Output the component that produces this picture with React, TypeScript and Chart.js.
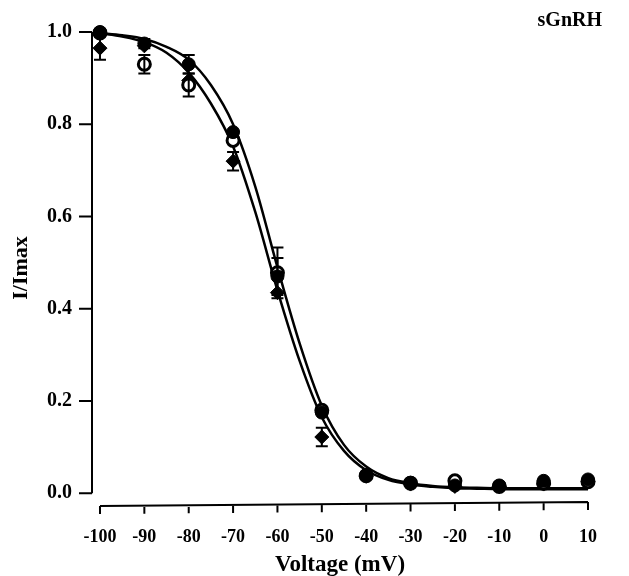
import React, { useEffect, useRef } from "react";
import { Chart, registerables } from "chart.js";

Chart.register(...registerables);

const xVals = [-100, -90, -80, -70, -60, -50, -40, -30, -20, -10, 0, 10];
const filledVals = [1.0, 0.975, 0.93, 0.783, 0.47, 0.175, 0.04, 0.023, 0.017, 0.017, 0.027, 0.03];
const openVals = [0.998, 0.93, 0.885, 0.765, 0.478, 0.18, 0.038, 0.022, 0.027, 0.015, 0.022, 0.025];
const diamondVals = [0.965, 0.97, 0.895, 0.72, 0.435, 0.122, 0.037, 0.02, 0.015, 0.015, 0.02, 0.025];
const filledErr = [0, 0.01, 0.02, 0, 0.04, 0, 0, 0, 0, 0, 0, 0];
const openErr = [0, 0.02, 0.025, 0, 0.055, 0, 0, 0, 0, 0, 0, 0];
const diamondErr = [0.025, 0, 0, 0.02, 0, 0.02, 0, 0, 0, 0, 0, 0];

const curveV = [-100, -95, -90, -85, -80, -75, -70, -65, -60, -55, -50, -45, -40, -35, -30, -25, -20, -15, -10, -5, 0, 5, 10];
const curveA = [0.998, 0.993, 0.985, 0.968, 0.94, 0.885, 0.8, 0.665, 0.49, 0.325, 0.19, 0.105, 0.058, 0.033, 0.022, 0.016, 0.013, 0.012, 0.011, 0.011, 0.011, 0.011, 0.011];
const curveB = [0.997, 0.99, 0.978, 0.955, 0.912, 0.845, 0.752, 0.61, 0.44, 0.287, 0.165, 0.092, 0.05, 0.029, 0.019, 0.014, 0.011, 0.01, 0.009, 0.009, 0.009, 0.009, 0.009];

const xTicks = [-100, -90, -80, -70, -60, -50, -40, -30, -20, -10, 0, 10];
const yTicks = [0, 0.2, 0.4, 0.6, 0.8, 1.0];

const FONT = "'Liberation Serif', 'DejaVu Serif', serif";

const axesPlugin = {
  id: "customAxes",
  afterDatasetsDraw(chart: any) {
    const ctx = chart.ctx;
    const xs = chart.scales.x;
    const ys = chart.scales.y;
    ctx.save();
    ctx.strokeStyle = "#000";
    ctx.lineWidth = 2;
    // error bars
    const sets = [
      [diamondVals, diamondErr],
      [openVals, openErr],
      [filledVals, filledErr],
    ];
    for (const [vals, errs] of sets) {
      for (let i = 0; i < xVals.length; i++) {
        const e = errs[i];
        if (!e) continue;
        const px = xs.getPixelForValue(xVals[i]);
        const top = ys.getPixelForValue(vals[i] + e);
        const bot = ys.getPixelForValue(vals[i] - e);
        ctx.beginPath();
        ctx.moveTo(px, top);
        ctx.lineTo(px, bot);
        ctx.moveTo(px - 6, top);
        ctx.lineTo(px + 6, top);
        ctx.moveTo(px - 6, bot);
        ctx.lineTo(px + 6, bot);
        ctx.stroke();
      }
    }
    // y axis
    const ax = chart.chartArea.left;
    ctx.beginPath();
    ctx.moveTo(ax, ys.getPixelForValue(1.0));
    ctx.lineTo(ax, ys.getPixelForValue(0));
    for (const t of yTicks) {
      const py = ys.getPixelForValue(t);
      ctx.moveTo(ax, py);
      ctx.lineTo(ax - 13, py);
    }
    ctx.stroke();
    // x axis
    const ay = chart.chartArea.bottom;
    ctx.beginPath();
    ctx.moveTo(xs.getPixelForValue(-100), ay + 2);
    ctx.lineTo(xs.getPixelForValue(10), ay - 2);
    for (const t of xTicks) {
      const px = xs.getPixelForValue(t);
      const yy = ay + 2 - ((t + 100) / 110) * 4;
      ctx.moveTo(px, yy);
      ctx.lineTo(px, yy + 8);
    }
    ctx.stroke();
    // label
    ctx.fillStyle = "#000";
    ctx.font = `bold 20px ${FONT}`;
    ctx.textAlign = "right";
    ctx.textBaseline = "middle";
    ctx.fillText("sGnRH", 602, 21);
    ctx.restore();
  },
};

export default function App() {
  const ref = useRef<HTMLCanvasElement>(null);
  useEffect(() => {
    if (!ref.current) return;
    const pts = (vals: number[]) => xVals.map((x, i) => ({ x, y: vals[i] }));
    const crv = (vals: number[]) => curveV.map((x, i) => ({ x, y: vals[i] }));
    const chart = new Chart(ref.current, {
      type: "scatter",
      data: {
        datasets: [
          {
            label: "filled",
            data: pts(filledVals),
            pointStyle: "circle",
            pointRadius: 6.5,
            backgroundColor: "#000",
            borderColor: "#000",
            borderWidth: 1,
            clip: false,
          } as any,
          {
            label: "open",
            data: pts(openVals),
            pointStyle: "circle",
            pointRadius: 6,
            backgroundColor: "#fff",
            borderColor: "#000",
            borderWidth: 3,
            clip: false,
          },
          {
            label: "diamond",
            data: pts(diamondVals),
            pointStyle: "rectRot",
            pointRadius: 7,
            backgroundColor: "#000",
            borderColor: "#000",
            borderWidth: 1,
            clip: false,
          },
          {
            label: "fitA",
            type: "line",
            data: crv(curveA),
            showLine: true,
            pointRadius: 0,
            borderColor: "#000",
            borderWidth: 2.5,
            tension: 0.4,
            cubicInterpolationMode: "monotone",
            fill: false,
            clip: false,
          },
          {
            label: "fitB",
            type: "line",
            data: crv(curveB),
            showLine: true,
            pointRadius: 0,
            borderColor: "#000",
            borderWidth: 2.5,
            tension: 0.4,
            cubicInterpolationMode: "monotone",
            fill: false,
            clip: false,
          },
        ],
      } as any,
      options: {
        animation: false,
        responsive: false,
        maintainAspectRatio: false,
        layout: { padding: { top: 19, right: 41, left: 0, bottom: 0 } },
        plugins: { legend: { display: false }, tooltip: { enabled: false }, title: { display: false } },
        scales: {
          x: {
            type: "linear",
            min: -101.8,
            max: 10,
            grid: { display: false, drawTicks: false },
            border: { display: false },
            afterFit: (s: any) => {
              s.height = 72;
            },
            afterBuildTicks: (s: any) => {
              s.ticks = xTicks.map((v) => ({ value: v }));
            },
            ticks: {
              color: "#000",
              padding: 23,
              maxRotation: 0,
              autoSkip: false,
              font: { family: FONT, size: 18, weight: "bold" },
              callback: (v: any) => String(v),
            },
            title: {
              display: true,
              text: "Voltage (mV)",
              color: "#000",
              padding: { top: 4, bottom: -3 },
              font: { family: FONT, size: 23, weight: "bold" },
            },
          },
          y: {
            type: "linear",
            min: -0.0232,
            max: 1.0,
            grid: { display: false, drawTicks: false },
            border: { display: false },
            afterFit: (s: any) => {
              s.width = 92;
            },
            afterBuildTicks: (s: any) => {
              s.ticks = yTicks.map((v) => ({ value: v }));
            },
            ticks: {
              color: "#000",
              padding: 20,
              autoSkip: false,
              font: { family: FONT, size: 20, weight: "bold" },
              callback: (v: any) => Number(v).toFixed(1),
            },
            title: {
              display: true,
              text: "I/Imax",
              color: "#000",
              padding: { bottom: 0, top: 8 },
              font: { family: FONT, size: 22, weight: "bold" },
            },
          },
        },
      } as any,
      plugins: [axesPlugin],
    });
    return () => chart.destroy();
  }, []);
  return (
    <div style={{ position: "absolute", left: 0, top: 0, width: 629, height: 576, background: "#fff" }}>
      <canvas ref={ref} width={629} height={576} style={{ width: 629, height: 576, display: "block" }} />
    </div>
  );
}
